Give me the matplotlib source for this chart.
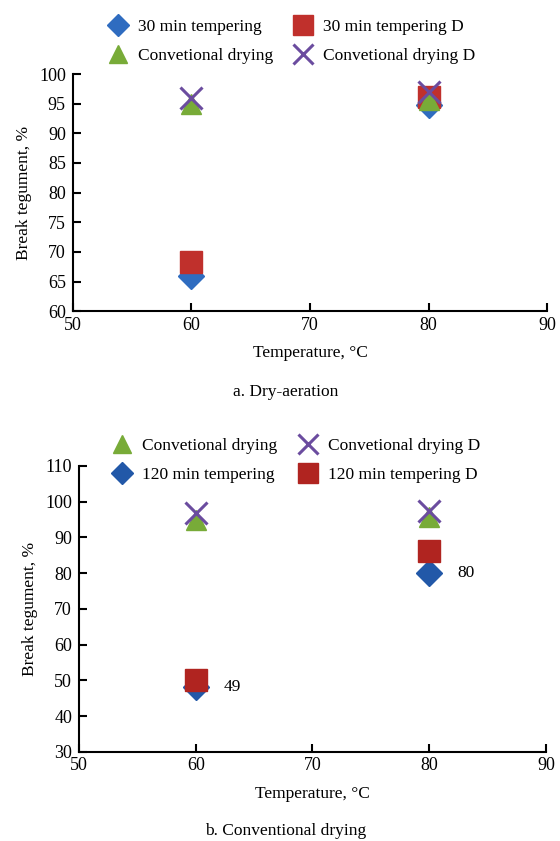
import matplotlib.pyplot as plt

plt.rcParams['font.family'] = ['Liberation Serif', 'DejaVu Serif']

temps = [60, 80]

# panel a: dry-aeration
a_temper30 = [66, 94.8]
a_temper30_d = [68.3, 96.2]
a_conv = [95, 95.6]
a_conv_d = [96, 97]

# panel b: conventional drying
b_conv = [95, 95.7]
b_conv_d = [96.8, 97.5]
b_temper120 = [48.2, 80]
b_temper120_d = [50, 86.3]
b_notes = ['49', '80']

fig = plt.figure(figsize=(5.6, 8.41), dpi=100)

blue = '#2f6cc0'
red = '#c0302c'
green = '#78ab38'
purple = '#6b4c9f'


def style_axes(ax, ylim, yticks):
    ax.set_xlim(50, 90)
    ax.set_ylim(*ylim)
    ax.set_xticks([50, 60, 70, 80, 90])
    ax.set_yticks(yticks)
    for s in ['top', 'right']:
        ax.spines[s].set_visible(False)
    for s in ['left', 'bottom']:
        ax.spines[s].set_linewidth(1.5)
    ax.tick_params(direction='in', length=6, width=1.5, labelsize=13)
    ax.tick_params(axis='y', pad=5)
    ax.tick_params(axis='x', pad=4)
    ax.set_xlabel('Temperature, °C', fontsize=12.5, labelpad=8)
    ax.set_ylabel('Break tegument, %', fontsize=12.5, labelpad=5)


leg_kw = dict(ncol=2, loc='lower center', frameon=False, fontsize=12.5,
              handletextpad=0.4, columnspacing=1.0, labelspacing=0.75,
              handlelength=1.5, markerscale=0.9)

# panel a
ax1 = fig.add_axes([0.130, 0.630, 0.847, 0.282])
h1, = ax1.plot(temps, a_temper30, 'D', color=blue, ms=13, ls='none', label='30 min tempering')
h2, = ax1.plot(temps, a_temper30_d, 's', color=red, ms=16, ls='none', label='30 min tempering D')
h3, = ax1.plot(temps, a_conv, '^', color=green, ms=15, ls='none', label='Convetional drying')
h4, = ax1.plot(temps, a_conv_d, 'x', color=purple, ms=16, mew=2.2, ls='none', label='Convetional drying D')
style_axes(ax1, (60, 100), range(60, 101, 5))
ax1.legend(handles=[h1, h3, h2, h4], bbox_to_anchor=(0.458, 0.975), **leg_kw)
fig.text(0.51, 0.534, 'a. Dry-aeration', ha='center', va='center', fontsize=12.5)

# panel b
ax2 = fig.add_axes([0.141, 0.106, 0.834, 0.340])
g1, = ax2.plot(temps, b_temper120, 'D', color='#2258a8', ms=13, ls='none', label='120 min tempering')
g2, = ax2.plot(temps, b_temper120_d, 's', color='#b02420', ms=16, ls='none', label='120 min tempering D')
g3, = ax2.plot(temps, b_conv, '^', color=green, ms=15, ls='none', label='Convetional drying')
g4, = ax2.plot(temps, b_conv_d, 'x', color=purple, ms=16, mew=2.2, ls='none', label='Convetional drying D')
style_axes(ax2, (30, 110), range(30, 111, 10))
ax2.legend(handles=[g3, g1, g4, g2], bbox_to_anchor=(0.462, 0.885), **leg_kw)
for t, v, n in zip(temps, b_temper120, b_notes):
    ax2.annotate(n, (t, v), xytext=(20, 0), textcoords='offset points',
                 fontsize=12.5, va='center', ha='left')
fig.text(0.51, 0.012, 'b. Conventional drying', ha='center', va='center', fontsize=12.5)

fig.savefig('out.png', dpi=100)
